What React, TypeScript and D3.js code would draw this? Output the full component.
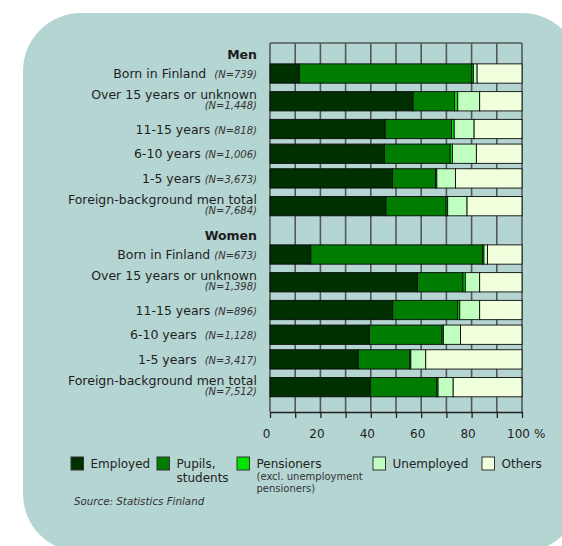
import React, { useEffect, useRef } from 'react';
import * as d3 from 'd3';

// activity categories (stack order, left to right)
const categories = ["Employed", "Pupils, students", "Pensioners", "Unemployed", "Others"];
const colors = ["#002f00", "#007c00", "#00e600", "#c0ffc0", "#f0ffdc"];

const groups = ["Men", "Women"];

const menLabels = ["Born in Finland ", "Over 15 years or unknown", "11-15 years", "6-10 years", "1-5 years", "Foreign-background men total"];
const menN = ["(N=739)", "(N=1,448)", "(N=818)", "(N=1,006)", "(N=3,673)", "(N=7,684)"];
const womenLabels = ["Born in Finland", "Over 15 years or unknown", "11-15 years", "6-10 years ", "1-5 years ", "Foreign-background men total"];
const womenN = ["(N=673)", "(N=1,398)", "(N=896)", "(N=1,128)", "(N=3,417)", "(N=7,512)"];

// percentages
const menEmployed = [11.6, 56.8, 45.7, 45.4, 48.6, 46.0];
const menPupils = [68.5, 16.4, 26.3, 26.1, 17.1, 23.9];
const menPensioners = [0.6, 1.3, 1.1, 0.9, 0.5, 0.6];
const menUnemployed = [1.5, 8.7, 7.9, 9.5, 7.4, 7.7];
const menOthers = [17.8, 16.8, 19.0, 18.1, 26.4, 21.8];

const womenEmployed = [16.2, 58.5, 48.7, 39.4, 35.0, 39.8];
const womenPupils = [68.1, 18.1, 25.8, 28.9, 20.5, 26.4];
const womenPensioners = [0.6, 0.9, 0.8, 0.5, 0.4, 0.5];
const womenUnemployed = [1.4, 5.7, 7.9, 6.8, 5.9, 6.0];
const womenOthers = [13.7, 16.8, 16.8, 24.4, 38.2, 27.3];

const xTicks = [0, 10, 20, 30, 40, 50, 60, 70, 80, 90, 100];

const FONT = "'DejaVu Sans', Verdana, sans-serif";

function App() {
  const ref = useRef<SVGSVGElement>(null);

  const width = 562;
  const height = 546;
  const marginLeft = 270;
  const plotRight = 522;
  const plotTop = 43;
  const axisY = 412;

  useEffect(() => {
    const svg = d3.select(ref.current);
    svg.selectAll("*").remove();

    // rounded panel behind everything
    const px0 = 23, py0 = 13, px1 = 580, py1 = 552, r = 58;
    const p = d3.path();
    p.moveTo(px0 + r, py0);
    p.lineTo(px1 - r, py0);
    p.arcTo(px1, py0, px1, py0 + r, r);
    p.lineTo(px1, py1 - r);
    p.arcTo(px1, py1, px1 - r, py1, r);
    p.lineTo(px0 + r, py1);
    p.arcTo(px0, py1, px0, py1 - r, r);
    p.lineTo(px0, py0 + r);
    p.arcTo(px0, py0, px0 + r, py0, r);
    p.closePath();
    svg.append("path").attr("d", p.toString()).attr("fill", "#b5d5d3");

    // rows: header, then six rows per group
    const rows: any[] = [];
    groups.forEach((g, gi) => {
      const labels = gi === 0 ? menLabels : womenLabels;
      const ns = gi === 0 ? menN : womenN;
      const cols = gi === 0
        ? [menEmployed, menPupils, menPensioners, menUnemployed, menOthers]
        : [womenEmployed, womenPupils, womenPensioners, womenUnemployed, womenOthers];
      rows.push({ header: true, label: g, units: 0.58, gap: gi > 0 ? 0.255 : 0 });
      labels.forEach((l, i) => {
        const twoLine = l.length > 20;
        const d: any = { header: false, label: l, n: ns[i], twoLine, units: twoLine ? 1.247 : 1, gap: 0 };
        categories.forEach((c, k) => { d[c] = cols[k][i]; });
        rows.push(d);
      });
    });

    // cumulative row layout, mapped to pixels with a linear scale
    let acc = 0;
    rows.forEach(d => {
      acc += d.gap;
      d.center = acc + d.units / 2;
      acc += d.units;
    });
    const y = d3.scaleLinear().domain([0, acc]).range([46.85, 402.55]);
    const barH = 19.3;

    const x = d3.scaleLinear().domain([0, 100]).range([marginLeft, plotRight]);

    // grid
    svg.append("g")
      .selectAll("line")
      .data(xTicks)
      .join("line")
      .attr("x1", d => x(d)).attr("x2", d => x(d))
      .attr("y1", plotTop).attr("y2", axisY)
      .attr("stroke", "#525858")
      .attr("stroke-width", 1.6);
    svg.append("line")
      .attr("x1", x(0)).attr("x2", x(100))
      .attr("y1", plotTop).attr("y2", plotTop)
      .attr("stroke", "#525858")
      .attr("stroke-width", 1.6);

    // bars
    const dataRows = rows.filter(d => !d.header);
    const series = d3.stack().keys(categories)(dataRows);
    const color = d3.scaleOrdinal<string, string>().domain(categories).range(colors);

    svg.append("g")
      .selectAll("g")
      .data(series)
      .join("g")
      .attr("fill", d => color(d.key))
      .selectAll("rect")
      .data(d => d)
      .join("rect")
      .attr("x", d => x(d[0]))
      .attr("width", d => Math.max(0, x(d[1]) - x(d[0])))
      .attr("y", d => y((d.data as any).center) - barH / 2)
      .attr("height", barH)
      .attr("stroke", "#0a0a0a")
      .attr("stroke-width", 0.9);

    // row labels
    const labelX = 257;
    const lab = svg.append("g")
      .attr("font-family", FONT)
      .attr("fill", "#1e1e1e");

    rows.forEach(d => {
      const cy = y(d.center);
      if (d.header) {
        lab.append("text")
          .attr("x", labelX).attr("y", cy + 4.5)
          .attr("text-anchor", "end")
          .attr("font-size", 12.5)
          .attr("font-weight", "bold")
          .text(d.label);
      } else if (d.twoLine) {
        lab.append("text")
          .attr("x", labelX).attr("y", cy - 2.5)
          .attr("text-anchor", "end")
          .attr("font-size", 12.5)
          .text(d.label);
        lab.append("text")
          .attr("x", labelX).attr("y", cy + 8)
          .attr("text-anchor", "end")
          .attr("font-size", 10)
          .attr("font-style", "italic")
          .attr("fill", "#333")
          .text(d.n);
      } else {
        const t = lab.append("text")
          .attr("x", labelX).attr("y", cy + 4.5)
          .attr("text-anchor", "end")
          .attr("xml:space", "preserve")
          .style("white-space", "pre")
          .attr("font-size", 12.5);
        t.append("tspan").text(d.label + " ");
        t.append("tspan")
          .attr("font-size", 10)
          .attr("font-style", "italic")
          .attr("fill", "#333")
          .text(d.n);
      }
    });

    // x axis
    const axis = svg.append("g")
      .attr("transform", `translate(0,${axisY})`)
      .call(d3.axisBottom(x)
        .tickValues(xTicks)
        .tickSize(6)
        .tickSizeOuter(0)
        .tickPadding(11)
        .tickFormat(d => (+d % 20 === 0 ? String(d) : "")));
    axis.select(".domain").attr("stroke", "#222").attr("stroke-width", 1.3);
    axis.selectAll(".tick line").attr("stroke", "#222").attr("stroke-width", 1.3);
    axis.selectAll(".tick text")
      .attr("dx", -4)
      .attr("fill", "#222")
      .attr("font-family", FONT)
      .attr("font-size", 12);
    svg.append("text")
      .attr("x", x(100) + 12)
      .attr("y", axisY + 6 + 11 + 8.5)
      .attr("font-family", FONT)
      .attr("font-size", 12)
      .attr("fill", "#222")
      .text("%");

    // legend
    const legendY = 457;
    const legendX = [71, 157, 237, 373, 482];
    const legendLines = [["Employed"], ["Pupils,", "students"], ["Pensioners"], ["Unemployed"], ["Others"]];
    const legend = svg.append("g").attr("font-family", FONT).attr("fill", "#222");
    categories.forEach((c, i) => {
      legend.append("rect")
        .attr("x", legendX[i]).attr("y", legendY)
        .attr("width", 12.5).attr("height", 13)
        .attr("fill", color(c))
        .attr("stroke", "#333")
        .attr("stroke-width", 1);
      legendLines[i].forEach((line, j) => {
        legend.append("text")
          .attr("x", legendX[i] + 19.5)
          .attr("y", legendY + 10.5 + j * 14.7)
          .attr("font-size", 12)
          .text(line);
      });
    });
    ["(excl. unemployment", "pensioners)"].forEach((line, j) => {
      legend.append("text")
        .attr("x", legendX[2] + 19.5)
        .attr("y", legendY + 23 + j * 12.3)
        .attr("font-size", 10)
        .attr("fill", "#333")
        .text(line);
    });

    svg.append("text")
      .attr("x", 74)
      .attr("y", 505)
      .attr("font-family", FONT)
      .attr("font-size", 10.3)
      .attr("font-style", "italic")
      .attr("fill", "#333")
      .text("Source: Statistics Finland");
  }, []);

  return (
    <div>
      <svg ref={ref} width={width} height={height}
        style={{ position: "absolute", left: 0, top: 0, background: "#fff" }} />
    </div>
  );
}

export default App;
